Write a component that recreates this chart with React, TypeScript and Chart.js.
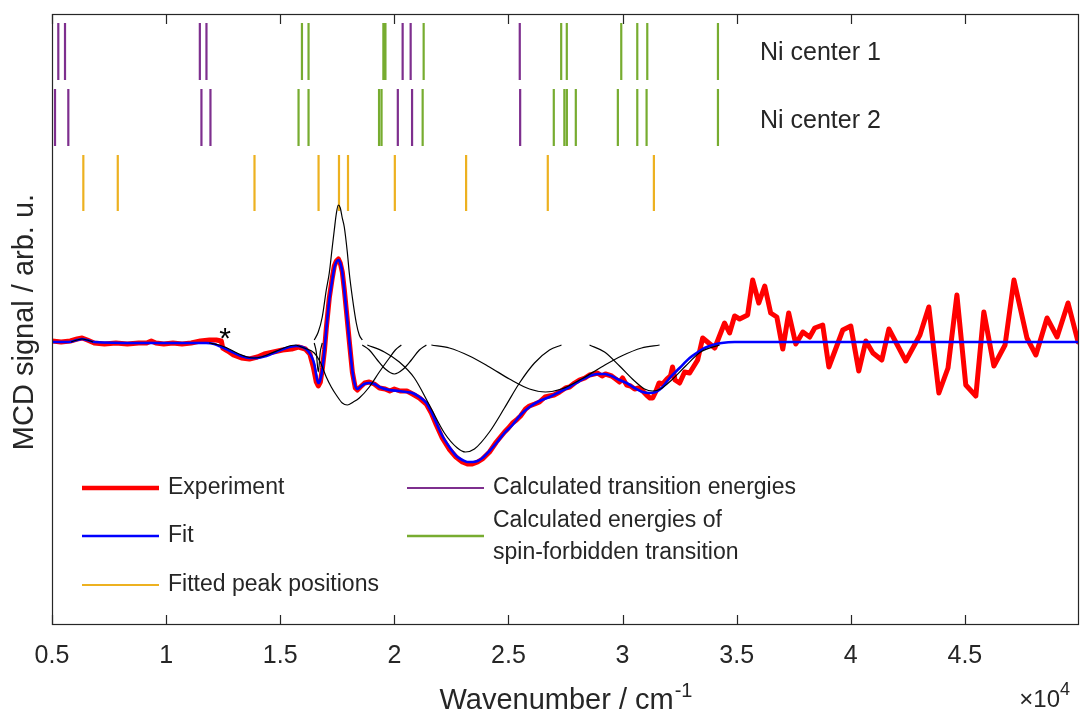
import React, { useEffect, useRef } from 'react';
import { Chart, registerables } from 'chart.js';

Chart.register(...registerables);

// ---------------- data (wavenumber in cm^-1, MCD in arb. u.) ----------------
const experiment: [number, number][] = [
  [5000, 0.01], [5400, 0.0], [5800, 0.01], [6100, 0.03], [6320, 0.04], [6550, 0.02], [6850, -0.01],
  [7300, -0.02], [7800, -0.01], [8300, -0.02], [8800, -0.01], [9150, -0.01], [9350, 0.01], [9550, -0.01],
  [9900, -0.02], [10300, -0.01], [10700, -0.02], [11100, -0.01], [11500, 0.01], [11900, 0.02], [12200, 0.02],
  [12420, 0.01], [12480, -0.06], [12700, -0.09], [12950, -0.13], [13300, -0.16], [13650, -0.17], [14000, -0.15],
  [14300, -0.12], [14700, -0.1], [15100, -0.08], [15500, -0.07], [15800, -0.05], [16100, -0.07], [16300, -0.12],
  [16450, -0.25], [16580, -0.4], [16667, -0.44], [16760, -0.4], [16850, -0.26], [16940, -0.08], [17020, 0.14],
  [17150, 0.44], [17280, 0.64], [17370, 0.76], [17460, 0.81], [17550, 0.83], [17630, 0.79], [17720, 0.7],
  [17810, 0.52], [17900, 0.31], [18030, 0.0], [18160, -0.3], [18290, -0.46], [18380, -0.48], [18510, -0.45],
  [18700, -0.41], [18900, -0.4], [19120, -0.42], [19350, -0.46], [19600, -0.47], [19800, -0.49], [20000, -0.47],
  [20250, -0.49], [20550, -0.49], [20800, -0.52], [21100, -0.56], [21400, -0.62], [21620, -0.71], [21840, -0.83],
  [22100, -0.96], [22400, -1.07], [22700, -1.15], [22980, -1.2], [23200, -1.22], [23420, -1.22], [23650, -1.2],
  [23860, -1.17], [24170, -1.1], [24470, -1.0], [24830, -0.9], [25000, -0.86], [25180, -0.81], [25350, -0.78],
  [25530, -0.74], [25750, -0.67], [25920, -0.64], [26150, -0.62], [26360, -0.6], [26600, -0.55], [26800, -0.54],
  [27000, -0.53], [27240, -0.5], [27500, -0.46], [27680, -0.45], [27900, -0.41], [28110, -0.38], [28350, -0.36],
  [28550, -0.33], [28750, -0.32], [28900, -0.31], [29100, -0.34], [29250, -0.32], [29520, -0.34], [29700, -0.37],
  [29870, -0.4], [30000, -0.36], [30180, -0.43], [30350, -0.44], [30530, -0.47], [30700, -0.46], [30880, -0.49],
  [31050, -0.53], [31200, -0.56], [31320, -0.56], [31450, -0.5], [31600, -0.41], [31760, -0.42], [31950, -0.37],
  [32100, -0.34], [32190, -0.25], [32300, -0.38], [32500, -0.41], [32720, -0.3], [32940, -0.31], [33290, -0.18],
  [33510, 0.04], [34040, -0.06], [34470, 0.19], [34690, 0.09], [34910, 0.26], [35130, 0.23], [35480, 0.27],
  [35700, 0.62], [35970, 0.39], [36230, 0.56], [36490, 0.29], [36760, 0.25], [37020, -0.07], [37280, 0.29],
  [37590, -0.02], [37900, 0.1], [38200, 0.05], [38420, 0.14], [38770, 0.17], [39040, -0.25], [39650, 0.12],
  [40000, 0.16], [40350, -0.29], [40660, 0.01], [40970, -0.11], [41360, -0.18], [41670, 0.13], [42410, -0.19],
  [43030, 0.07], [43420, 0.35], [43860, -0.51], [44260, -0.26], [44650, 0.47], [45040, -0.43], [45480, -0.54],
  [45830, 0.3], [46270, -0.24], [46760, -0.03], [47150, 0.62], [47720, 0.04], [48110, -0.13], [48600, 0.24],
  [49040, 0.05], [49520, 0.39], [49960, 0.0],
];

const fit: [number, number][] = [
  [5000, 0], [5746, 0], [6097, 0.02], [6316, 0.03], [6535, 0.02], [6842, 0], [8816, -0.01], [11754, -0.01],
  [12105, -0.02], [12325, -0.04], [12632, -0.07], [12895, -0.1], [13289, -0.14], [13640, -0.16], [13991, -0.16],
  [14386, -0.14], [14825, -0.1], [15263, -0.06], [15702, -0.04], [15965, -0.05], [16184, -0.08], [16360, -0.14],
  [16491, -0.22], [16579, -0.33], [16667, -0.41], [16754, -0.38], [16842, -0.28], [16930, -0.1], [17018, 0.12],
  [17149, 0.42], [17281, 0.62], [17369, 0.74], [17456, 0.8], [17544, 0.82], [17632, 0.79], [17719, 0.7],
  [17807, 0.52], [17895, 0.32], [18026, 0.02], [18158, -0.28], [18290, -0.44], [18377, -0.47], [18509, -0.45],
  [18684, -0.42], [18904, -0.41], [19123, -0.42], [19342, -0.45], [19781, -0.48], [20219, -0.49], [20526, -0.5],
  [20790, -0.51], [21097, -0.55], [21404, -0.61], [21623, -0.7], [21842, -0.81], [22105, -0.94], [22412, -1.05],
  [22719, -1.14], [22982, -1.18], [23202, -1.2], [23421, -1.2], [23641, -1.19], [23860, -1.16], [24167, -1.09],
  [24474, -1.01], [24825, -0.91], [25176, -0.83], [25526, -0.73], [25921, -0.65], [26360, -0.59], [26798, -0.55],
  [27237, -0.5], [27676, -0.45], [28114, -0.39], [28553, -0.34], [28904, -0.32], [29211, -0.32], [29518, -0.34],
  [29869, -0.38], [30176, -0.41], [30526, -0.46], [30877, -0.5], [31184, -0.51], [31448, -0.5], [31755, -0.45],
  [32062, -0.36], [32500, -0.26], [32939, -0.16], [33246, -0.11], [33596, -0.06], [33947, -0.03], [34342, -0.01],
  [34912, 0], [50000, 0],
];

// fitted Gaussian components (each shown only over its own window)
const band6373: [number, number][] = [[5833, 0], [6097, 0.02], [6316, 0.03], [6535, 0.02], [6798, 0]];
const band13873: [number, number][] = [
  [11886, -0.01], [12325, -0.03], [12763, -0.07], [13202, -0.12], [13553, -0.15], [13860, -0.16],
  [14167, -0.15], [14518, -0.12], [14956, -0.08], [15395, -0.04], [15702, -0.03],
];
const band16680: [number, number][] = [[16491, -0.01], [16579, -0.1], [16667, -0.3], [16754, -0.1], [16842, -0.01]];
const band17575: [number, number][] = [
  [16491, 0.02], [16667, 0.1], [16842, 0.25], [17018, 0.52], [17149, 0.69], [17281, 0.95], [17369, 1.12],
  [17456, 1.28], [17544, 1.37], [17632, 1.34], [17719, 1.24], [17807, 1.15], [17939, 0.9], [18026, 0.69],
  [18158, 0.45], [18333, 0.19], [18465, 0.07], [18597, 0.02],
];
const band17970: [number, number][] = [
  [15702, -0.03], [16053, -0.06], [16491, -0.11], [16754, -0.2], [17018, -0.35], [17237, -0.45], [17456, -0.53],
  [17719, -0.61], [17939, -0.63], [18202, -0.6], [18465, -0.56], [18904, -0.45], [19342, -0.3], [19781, -0.16],
  [20044, -0.08], [20307, -0.03],
];
const band20022: [number, number][] = [
  [18597, -0.03], [18904, -0.08], [19255, -0.18], [19605, -0.27], [20000, -0.32], [20395, -0.27], [20746, -0.18],
  [21097, -0.08], [21404, -0.03],
];
const band23145: [number, number][] = [
  [18816, -0.03], [19562, -0.1], [20219, -0.2], [20877, -0.36], [21535, -0.63], [22193, -0.91], [22763, -1.06],
  [23114, -1.1], [23509, -1.07], [24167, -0.9], [24825, -0.66], [25483, -0.41], [26141, -0.21], [26798, -0.08],
  [27324, -0.03],
];
const band26724: [number, number][] = [
  [21623, -0.03], [22412, -0.06], [23290, -0.14], [24167, -0.25], [25044, -0.37], [25921, -0.47], [26623, -0.5],
  [27324, -0.47], [28202, -0.37], [29079, -0.25], [29956, -0.14], [30834, -0.06], [31623, -0.03],
];
const band31373: [number, number][] = [
  [28553, -0.03], [29211, -0.1], [29869, -0.24], [30526, -0.39], [30965, -0.47], [31316, -0.49], [31667, -0.47],
  [32105, -0.39], [32763, -0.24], [33421, -0.1], [34255, -0.03],
];

// stick spectra (cm^-1)
const center1Purple = [5276, 5570, 11478, 11768, 20364, 20715, 25496];
const center1Green = [15952, 16241, 19520, 19610, 21285, 27311, 27557, 29943, 30645, 31083, 34180];
const center2Purple = [5132, 5715, 11548, 11943, 20153, 20777, 25513];
const center2Green = [15803, 16241, 19330, 19440, 21241, 26987, 27450, 27560, 27952, 29794, 30645, 31053, 34180];
const fittedPeaks = [6373, 7882, 13873, 16680, 17575, 17970, 20022, 23145, 26724, 31373];

// vertical extents of the three stick rows (arb. u.)
const row1Span = [2.62, 3.19];
const row2Span = [1.96, 2.53];
const row3Span = [1.31, 1.87];

const xTickValues = [5000, 10000, 15000, 20000, 25000, 30000, 35000, 40000, 45000];
const xRange = [5000, 50000];
const yRange = [-2.83, 3.28];

const rowLabels = ['Ni center 1', 'Ni center 2'];
const legendLabels = ['Experiment', 'Fit', 'Fitted peak positions', 'Calculated transition energies', 'Calculated energies of', 'spin-forbidden transition'];

// ---------------- styling ----------------
const FONT = '"Liberation Sans", Arial, Helvetica, sans-serif';
const TEXT = '#262626';
const RED = '#ff0000';
const BLUE = '#0000ff';
const ORANGE = '#edb120';
const PURPLE = '#7e2f8e';
const GREEN = '#77ac30';

const toXY = (arr: [number, number][]) => arr.map(([x, y]) => ({ x, y }));
const sticks = (xs: number[], span: number[]) =>
  xs.flatMap((x) => [{ x, y: span[0] }, { x, y: span[1] }, { x, y: null as any }]);

const decorPlugin = {
  id: 'decor',
  afterDraw(chart: any) {
    const { ctx, chartArea: a, scales } = chart;
    const xs = scales.x;
    ctx.save();
    // box
    ctx.strokeStyle = TEXT;
    ctx.lineWidth = 1.2;
    ctx.strokeRect(a.left + 0.5, a.top + 0.5, a.right - a.left - 1, a.bottom - a.top - 1);
    // inward ticks top & bottom
    xTickValues.forEach((v) => {
      const px = Math.round(xs.getPixelForValue(v)) + 0.5;
      ctx.beginPath();
      ctx.moveTo(px, a.bottom);
      ctx.lineTo(px, a.bottom - 10);
      ctx.moveTo(px, a.top);
      ctx.lineTo(px, a.top + 10);
      ctx.stroke();
    });

    ctx.fillStyle = TEXT;
    // y title
    ctx.save();
    ctx.font = `29px ${FONT}`;
    ctx.translate(33, 322);
    ctx.rotate(-Math.PI / 2);
    ctx.textAlign = 'center';
    ctx.textBaseline = 'alphabetic';
    ctx.fillText('MCD signal / arb. u.', 0, 0);
    ctx.restore();

    // x title with superscript
    const main = 'Wavenumber / cm';
    const sup = '-1';
    ctx.font = `29px ${FONT}`;
    const wMain = ctx.measureText(main).width;
    ctx.font = `20px ${FONT}`;
    const wSup = ctx.measureText(sup).width;
    const cx = (a.left + a.right) / 2;
    const x0 = cx - (wMain + wSup) / 2;
    ctx.textAlign = 'left';
    ctx.textBaseline = 'alphabetic';
    ctx.font = `29px ${FONT}`;
    ctx.fillText(main, x0, 709);
    ctx.font = `20px ${FONT}`;
    ctx.fillText(sup, x0 + wMain + 1, 697);

    // exponent label, right-aligned to the axis end
    ctx.font = `24px ${FONT}`;
    const baseTxt = '\u00d710';
    const wBase = ctx.measureText(baseTxt).width;
    ctx.font = `18px ${FONT}`;
    const wExp = ctx.measureText('4').width;
    const ex0 = 1070 - wBase - wExp;
    ctx.font = `24px ${FONT}`;
    ctx.fillText(baseTxt, ex0, 707);
    ctx.font = `18px ${FONT}`;
    ctx.fillText('4', ex0 + wBase, 695);

    // row labels
    ctx.font = `25px ${FONT}`;
    ctx.textBaseline = 'middle';
    ctx.fillText(rowLabels[0], 760, 53);
    ctx.fillText(rowLabels[1], 760, 121);

    // asterisk
    ctx.fillStyle = '#000';
    ctx.textAlign = 'center';
    ctx.textBaseline = 'alphabetic';
    ctx.font = `30px ${FONT}`;
    ctx.fillText('*', 225, 348);

    // legend
    const entries = [
      { c: RED, w: 4.5, x: 82, y: 488, t: [legendLabels[0]] },
      { c: BLUE, w: 2.5, x: 82, y: 536, t: [legendLabels[1]] },
      { c: ORANGE, w: 2, x: 82, y: 585, t: [legendLabels[2]] },
      { c: PURPLE, w: 2, x: 407, y: 488, t: [legendLabels[3]] },
      { c: GREEN, w: 2.5, x: 407, y: 536, t: [legendLabels[4], legendLabels[5]] },
    ];
    ctx.font = `23px ${FONT}`;
    ctx.textAlign = 'left';
    ctx.textBaseline = 'middle';
    entries.forEach((e) => {
      ctx.strokeStyle = e.c;
      ctx.lineWidth = e.w;
      ctx.beginPath();
      ctx.moveTo(e.x, e.y);
      ctx.lineTo(e.x + 77, e.y);
      ctx.stroke();
      ctx.fillStyle = TEXT;
      if (e.t.length === 1) ctx.fillText(e.t[0], e.x + 86, e.y);
      else {
        ctx.fillText(e.t[0], e.x + 86, e.y - 15);
        ctx.fillText(e.t[1], e.x + 86, e.y + 17);
      }
    });
    ctx.restore();
  },
};

export default function App() {
  const ref = useRef<HTMLCanvasElement | null>(null);
  useEffect(() => {
    if (!ref.current) return;
    const bandStyle = {
      borderColor: '#000',
      borderWidth: 1.2,
      pointRadius: 0,
      cubicInterpolationMode: 'monotone' as const,
      order: 0,
    };
    const stickStyle = (c: string) => ({
      borderColor: c,
      borderWidth: 2.2,
      pointRadius: 0,
      spanGaps: false,
      order: 3,
    });
    const bands = [band6373, band13873, band16680, band17575, band17970, band20022, band23145, band26724, band31373];
    const chart = new Chart(ref.current, {
      type: 'line',
      data: {
        datasets: [
          ...bands.map((b) => ({ ...bandStyle, data: toXY(b) })),
          { data: toXY(fit), borderColor: BLUE, borderWidth: 2.6, pointRadius: 0, cubicInterpolationMode: 'monotone', order: 1 },
          { data: toXY(experiment), borderColor: RED, borderWidth: 5, pointRadius: 0, tension: 0, borderJoinStyle: 'round', borderCapStyle: 'round', order: 2 },
          { data: sticks(center1Purple, row1Span), ...stickStyle(PURPLE) },
          { data: sticks(center1Green, row1Span), ...stickStyle(GREEN) },
          { data: sticks(center2Purple, row2Span), ...stickStyle(PURPLE) },
          { data: sticks(center2Green, row2Span), ...stickStyle(GREEN) },
          { data: sticks(fittedPeaks, row3Span), ...stickStyle(ORANGE) },
        ] as any,
      },
      options: {
        animation: false,
        responsive: false,
        events: [],
        layout: { padding: { left: 52, right: 1, top: 14, bottom: 0 } },
        plugins: { legend: { display: false }, tooltip: { enabled: false } },
        scales: {
          x: {
            type: 'linear',
            min: xRange[0],
            max: xRange[1],
            afterBuildTicks: (s: any) => {
              s.ticks = xTickValues.map((v) => ({ value: v }));
            },
            afterFit: (s: any) => {
              s.height = 88;
            },
            grid: { display: false, drawTicks: false },
            border: { display: false },
            ticks: {
              autoSkip: false,
              maxRotation: 0,
              padding: 16,
              color: TEXT,
              font: { family: FONT, size: 25 },
              callback: (v: any) => String(Number(v) / 10000),
            },
          },
          y: {
            display: false,
            min: yRange[0],
            max: yRange[1],
          },
        },
      } as any,
      plugins: [decorPlugin],
    });
    return () => chart.destroy();
  }, []);
  return (
    <div style={{ position: 'absolute', left: 0, top: 0, width: 1080, height: 713, background: '#fff' }}>
      <canvas ref={ref} width={1080} height={713} style={{ display: 'block', width: 1080, height: 713 }} />
    </div>
  );
}
